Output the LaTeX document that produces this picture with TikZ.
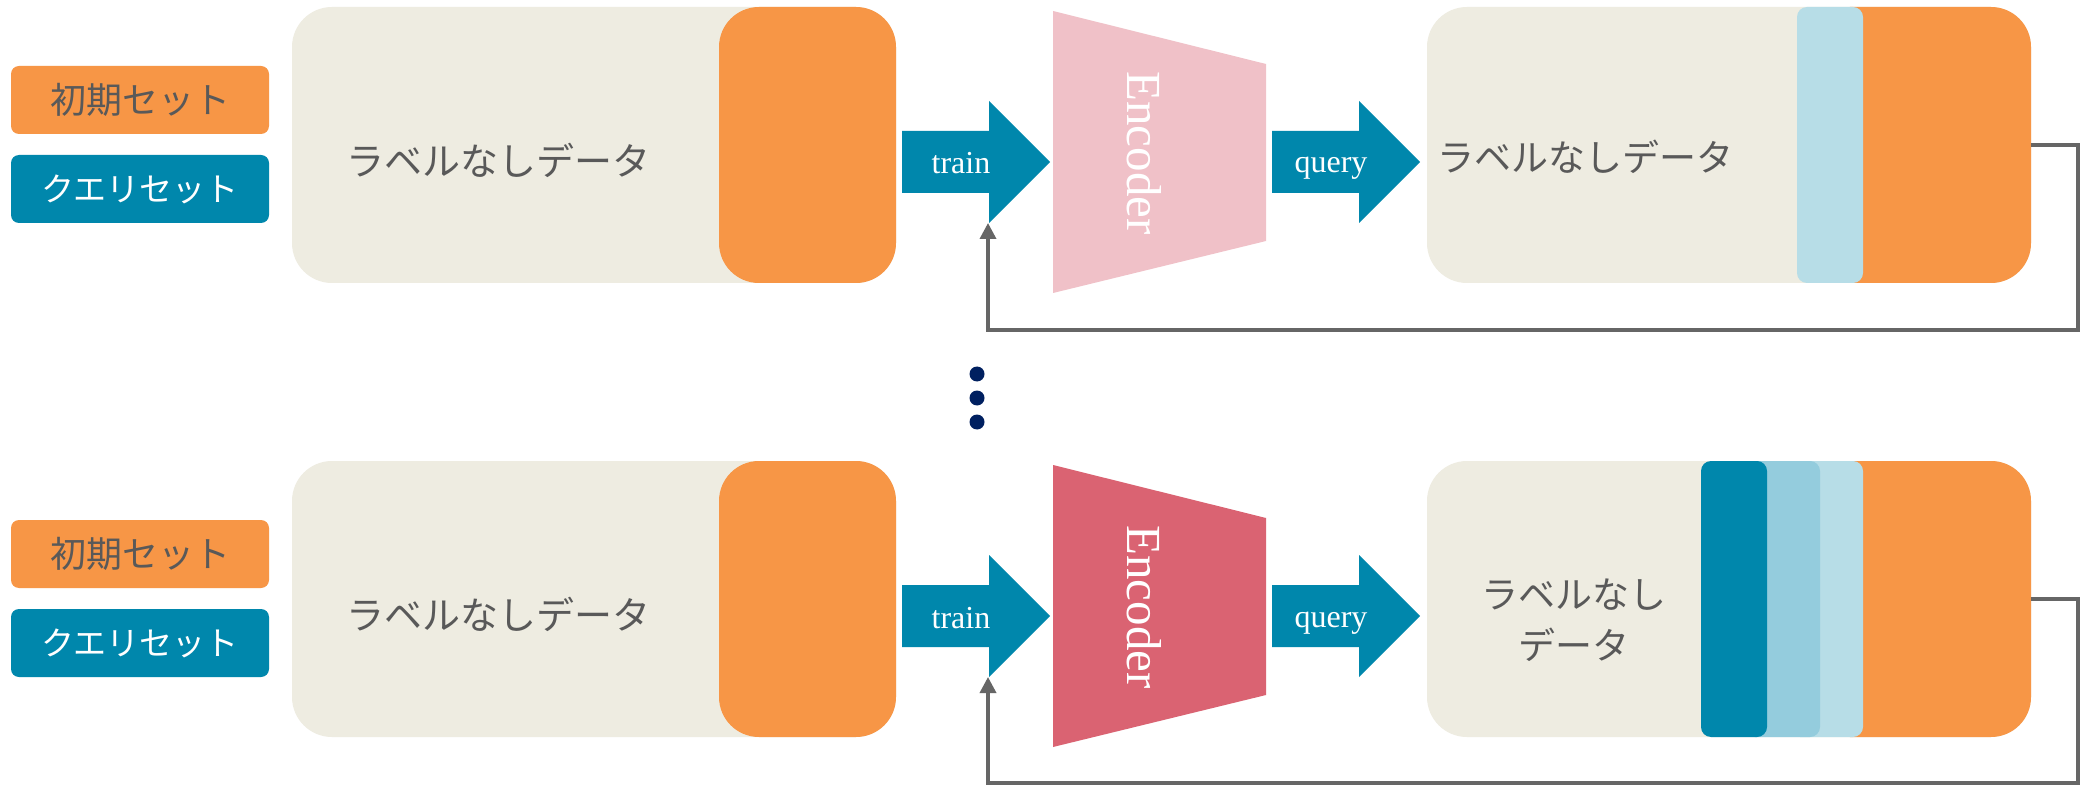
\documentclass[tikz,border=0pt]{standalone}
\usepackage{fontspec}
\setmainfont{Liberation Serif}
\newfontfamily\jp{Noto Sans CJK JP}
\usetikzlibrary{arrows.meta}

\definecolor{beige}{HTML}{EEECE1}
\definecolor{orange}{HTML}{F79646}
\definecolor{teal}{HTML}{0087AC}
\definecolor{midblue}{HTML}{94CCDD}
\definecolor{lightblue}{HTML}{B7DDE7}
\definecolor{encpale}{HTML}{F0C1C8}
\definecolor{encdeep}{HTML}{DA6372}
\definecolor{txtgray}{HTML}{595959}
\definecolor{linegray}{HTML}{666666}
\definecolor{dotnavy}{HTML}{002060}

\begin{document}
\begin{tikzpicture}[x=1pt,y=-1pt,
  panel/.style={rectangle, draw=none, rounded corners=40pt, inner sep=0pt, minimum height=276pt},
  strip/.style={rectangle, draw=none, rounded corners=10pt, inner sep=0pt, minimum height=276pt},
  tag/.style={rectangle, draw=none, rounded corners=8pt, inner sep=0pt,
              minimum width=258pt, minimum height=68pt},
  jptext/.style={text=txtgray, inner sep=0pt, font=\jp\fontsize{38}{46}\selectfont},
  serifw/.style={text=white, inner sep=0pt, font=\fontsize{32}{38}\selectfont},
  fb/.style={draw=linegray, line width=3.5pt, -{Triangle[length=16pt,width=16pt]}}
]
\useasboundingbox (0,0) rectangle (2081,786);
\fill[white] (0,0) rectangle (2081,786);

% ---------------- first round ----------------
\node[tag, fill=orange, text=txtgray, font=\jp\fontsize{36}{42}\selectfont] (init1) at (140,100) {初期セット};
\node[tag, fill=teal, text=white, font=\jp\fontsize{33}{40}\selectfont] (qset1) at (140,189) {クエリセット};

\node[panel, fill=beige, minimum width=604pt] (dl1) at (594,145) {};
\node[panel, fill=orange, minimum width=177pt] (ol1) at (807.5,145) {};
\node[jptext] (tl1) at (498,160) {ラベルなしデータ};

\fill[teal] (902,131) -- (989,131) -- (989,101) -- (1050,162) -- (989,223) -- (989,193) -- (902,193) -- cycle;
\node[serifw, anchor=base] (train1) at (961,174) {train};
\coordinate (tf1) at (988,223);

\fill[encpale] (1053,11) -- (1266,64) -- (1266,241) -- (1053,293) -- cycle;
\node[text=white, inner sep=0pt, rotate=-90, font=\fontsize{49}{58}\selectfont] (enc1) at (1144,153) {Encoder};

\fill[teal] (1272,131) -- (1359,131) -- (1359,101) -- (1420,162) -- (1359,223) -- (1359,193) -- (1272,193) -- cycle;
\node[serifw, anchor=base] (query1) at (1331,173) {query};

\node[panel, fill=beige, minimum width=604pt] (dr1) at (1729,145) {};
\node[panel, fill=orange, minimum width=221pt] (or1) at (1920.5,145) {};
\node[strip, fill=lightblue, minimum width=66pt] (sa1) at (1830,145) {};
\node[jptext, font=\jp\fontsize{37}{44}\selectfont] (tr1) at (1585,157) {ラベルなしデータ};

\draw[fb] (dr1.east) -- ++(47,0) -- ++(0,185) -| (tf1);

% ---------------- continuation ----------------
\foreach \yy in {374,398,422}
  \fill[dotnavy] (977,\yy) circle[radius=7.5pt];

% ---------------- later round ----------------
\begin{scope}[shift={(0,454)}]
\node[tag, fill=orange, text=txtgray, font=\jp\fontsize{36}{42}\selectfont] (init2) at (140,100) {初期セット};
\node[tag, fill=teal, text=white, font=\jp\fontsize{33}{40}\selectfont] (qset2) at (140,189) {クエリセット};

\node[panel, fill=beige, minimum width=604pt] (dl2) at (594,145) {};
\node[panel, fill=orange, minimum width=177pt] (ol2) at (807.5,145) {};
\node[jptext] (tl2) at (498,160) {ラベルなしデータ};

\fill[teal] (902,131) -- (989,131) -- (989,101) -- (1050,162) -- (989,223) -- (989,193) -- (902,193) -- cycle;
\node[serifw, anchor=base] (train2) at (961,174) {train};
\coordinate (tf2) at (988,223);

\fill[encdeep] (1053,11) -- (1266,64) -- (1266,241) -- (1053,293) -- cycle;
\node[text=white, inner sep=0pt, rotate=-90, font=\fontsize{49}{58}\selectfont] (enc2) at (1144,153) {Encoder};

\fill[teal] (1272,131) -- (1359,131) -- (1359,101) -- (1420,162) -- (1359,223) -- (1359,193) -- (1272,193) -- cycle;
\node[serifw, anchor=base] (query2) at (1331,173) {query};

\node[panel, fill=beige, minimum width=604pt] (dr2) at (1729,145) {};
\node[panel, fill=orange, minimum width=221pt] (or2) at (1920.5,145) {};
\node[strip, fill=lightblue, minimum width=73pt] (sa2) at (1826.5,145) {};
\node[strip, fill=midblue, minimum width=75pt] (sb2) at (1782.5,145) {};
\node[strip, fill=teal, minimum width=66pt] (sc2) at (1734,145) {};
\node[jptext, font=\jp\fontsize{37}{51}\selectfont, align=center] (tr2) at (1574,166) {ラベルなし\\データ};

\draw[fb] (dr2.east) -- ++(47,0) -- ++(0,184) -| (tf2);
\end{scope}
\end{tikzpicture}
\end{document}
